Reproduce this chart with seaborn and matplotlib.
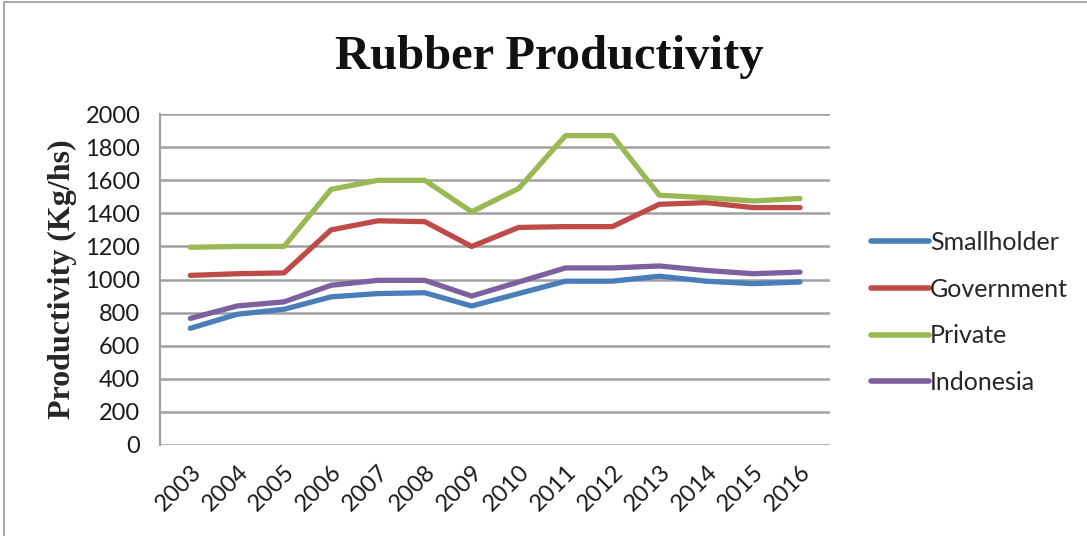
import matplotlib
matplotlib.use("Agg")
import matplotlib.pyplot as plt
import seaborn as sns
import pandas as pd
from matplotlib.patches import Rectangle

years = [2003, 2004, 2005, 2006, 2007, 2008, 2009, 2010, 2011, 2012, 2013, 2014, 2015, 2016]
smallholder = [705, 790, 820, 895, 915, 920, 840, 915, 990, 990, 1020, 990, 975, 985]
government = [1025, 1035, 1040, 1300, 1355, 1350, 1200, 1315, 1320, 1320, 1455, 1465, 1435, 1435]
private = [1195, 1200, 1200, 1545, 1600, 1600, 1410, 1550, 1870, 1870, 1510, 1495, 1475, 1490]
indonesia = [765, 840, 865, 965, 995, 995, 900, 985, 1070, 1070, 1082, 1055, 1035, 1045]
series_names = ["Smallholder", "Government", "Private", "Indonesia"]
colors = ["#4A7EBB", "#BE4B48", "#98B954", "#7D60A0"]
y_ticks = [0, 200, 400, 600, 800, 1000, 1200, 1400, 1600, 1800, 2000]

rows = []
for name, vals in zip(series_names, [smallholder, government, private, indonesia]):
    for i, (y, v) in enumerate(zip(years, vals)):
        rows.append({"idx": i, "Year": str(y), "Series": name, "Value": v})
df = pd.DataFrame(rows)

sns.set_theme(style="white")
plt.rcParams['font.family'] = ['Lato', 'DejaVu Sans']

fig = plt.figure(figsize=(10.87, 5.36), dpi=100)
ax = fig.add_axes([0.147, 0.170, 0.617, 0.617])

sns.lineplot(data=df, x="idx", y="Value", hue="Series", palette=colors,
             hue_order=series_names, linewidth=3.8, ax=ax, legend=True,
             solid_capstyle="round")

ax.set_ylim(0, 2000)
ax.set_xlim(-0.65, len(years) - 0.35)
ax.set_yticks(y_ticks)
ax.set_yticklabels([str(t) for t in y_ticks], fontsize=17, color="#1a1a1a")
ax.set_xticks(range(len(years)))
ax.set_xticklabels([str(y) for y in years], rotation=45, ha="right",
                   rotation_mode="anchor", fontsize=17, color="#1a1a1a")
ax.tick_params(axis="y", length=0, pad=14)
ax.tick_params(axis="x", length=0, pad=12)
ax.yaxis.grid(True, color="#A0A0A0", linewidth=1.8)
ax.set_axisbelow(True)
for s in ["top", "right", "bottom"]:
    ax.spines[s].set_visible(False)
ax.spines["left"].set_color("#A0A0A0")
ax.spines["left"].set_linewidth(1.5)
ax.set_xlabel("")
ax.set_ylabel("Productivity (Kg/hs)", fontsize=23, fontweight="bold",
              family="Liberation Serif", labelpad=6)

fig.text(0.505, 0.893, "Rubber Productivity", ha="center", va="center",
         fontsize=35, fontweight="bold", family="Liberation Serif", color="#111111")

leg = ax.legend(loc="center left", bbox_to_anchor=(1.027, 0.40), frameon=False,
                fontsize=18, handlelength=2.3, handletextpad=0.05, labelspacing=0.95)
for line in leg.get_lines():
    line.set_linewidth(4)

fig.patches.append(Rectangle((0.004, -0.01), 1.2, 1.007, transform=fig.transFigure,
                             fill=False, edgecolor="#999999", linewidth=1.2))

fig.savefig("out.png", dpi=100)
